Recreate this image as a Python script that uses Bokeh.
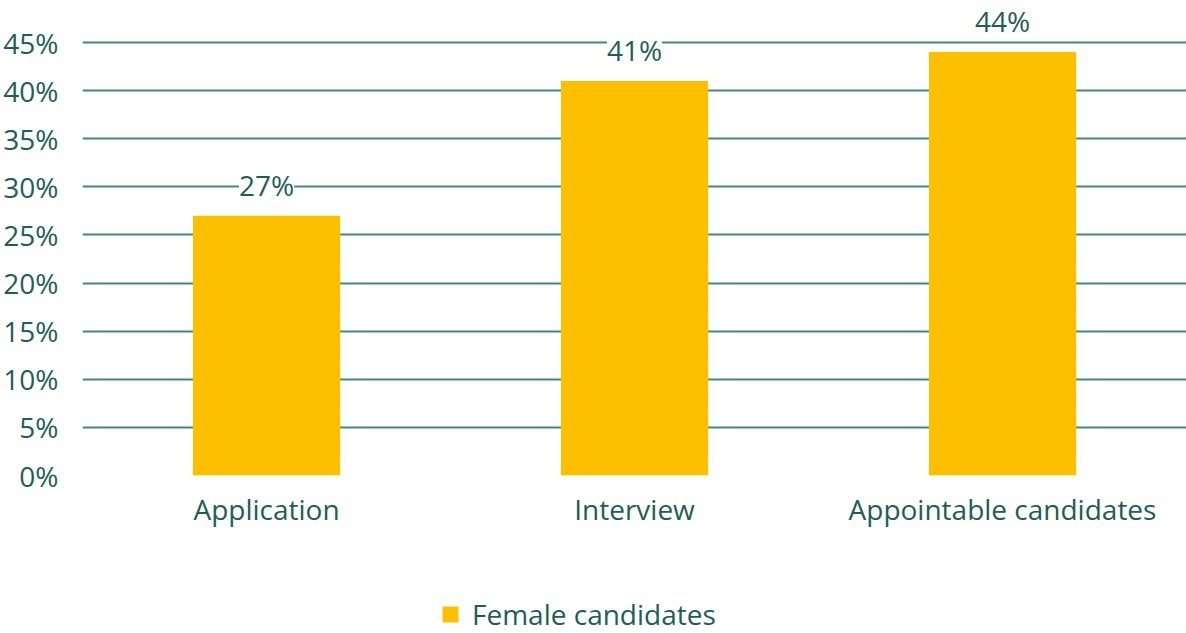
from bokeh.plotting import figure
from bokeh.layouts import column
from bokeh.models import (ColumnDataSource, Range1d, FactorRange, FixedTicker,
                          LabelSet, Legend, LegendItem)
from bokeh.core.properties import value
from bokeh.embed import file_html
from bokeh.resources import INLINE

# ---- data ----
categories = ["Application", "Interview", "Appointable candidates"]
values = [27, 41, 44]
value_labels = ["27%", "41%", "44%"]
y_ticks = [0, 5, 10, 15, 20, 25, 30, 35, 40, 45]
y_tick_labels = ["0%", "5%", "10%", "15%", "20%", "25%", "30%", "35%", "40%", "45%"]
series_name = "Female candidates"

TEXT = "#1E5E57"
GRID = "#4A867D"
BAR = "#FCC000"
FONT = "Open Sans"

src = ColumnDataSource(dict(cat=categories, val=values, lbl=value_labels))

p = figure(x_range=categories, y_range=Range1d(0, 49.365),
           width=1186, height=545, output_backend="svg", toolbar_location=None,
           min_border_left=80, min_border_right=0, min_border_top=0,
           min_border_bottom=70, outline_line_color=None)

bars = p.vbar(x="cat", top="val", width=0.4, source=src, color=BAR, line_color=None)

labels = LabelSet(x="cat", y="val", text="lbl", source=src, y_offset=20,
                  text_align="center", text_baseline="alphabetic",
                  text_font=value(FONT), text_font_size=value("28px"),
                  text_color=TEXT, background_fill_color="white")
p.add_layout(labels)

# grid
p.xgrid.grid_line_color = None
p.ygrid.grid_line_color = GRID
p.ygrid.grid_line_width = 2
p.ygrid.ticker = FixedTicker(ticks=y_ticks)

# y axis
p.yaxis.ticker = FixedTicker(ticks=y_ticks)
p.yaxis.major_label_overrides = {t: l for t, l in zip(y_ticks, y_tick_labels)}
p.yaxis.axis_line_color = None
p.yaxis.major_tick_line_color = None
p.yaxis.minor_tick_line_color = None
p.yaxis.major_label_text_font = FONT
p.yaxis.major_label_text_font_size = "28px"
p.yaxis.major_label_text_color = TEXT
p.yaxis.major_label_standoff = 18

# x axis
p.xaxis.axis_line_color = None
p.xaxis.major_tick_line_color = None
p.xaxis.minor_tick_line_color = None
p.xaxis.major_label_text_font = FONT
p.xaxis.major_label_text_font_size = "28px"
p.xaxis.major_label_text_color = TEXT
p.xaxis.major_label_standoff = 8

# legend strip below the chart (its bars lie below its visible range;
# only the legend key is seen)
p2 = figure(width=1186, height=88, output_backend="svg", toolbar_location=None,
            x_range=FactorRange(*categories), y_range=Range1d(100, 101),
            x_axis_location=None, y_axis_location=None,
            min_border_left=0, min_border_right=0, min_border_top=0,
            min_border_bottom=0, outline_line_color=None)
p2.xgrid.grid_line_color = None
p2.ygrid.grid_line_color = None
key = p2.vbar(x="cat", top="val", width=0.4, source=src,
              color=BAR, line_color=None)
legend = Legend(items=[LegendItem(label=series_name, renderers=[key])],
                location=(358, 0), orientation="horizontal",
                border_line_color=None, background_fill_alpha=0,
                glyph_width=20, glyph_height=20, label_standoff=12,
                label_text_font=FONT, label_text_font_size="28px",
                label_text_color=TEXT, margin=0, padding=0)
p2.add_layout(legend)

layout = column(p, p2, spacing=0)
open("out.html", "w").write(file_html(layout, INLINE))
